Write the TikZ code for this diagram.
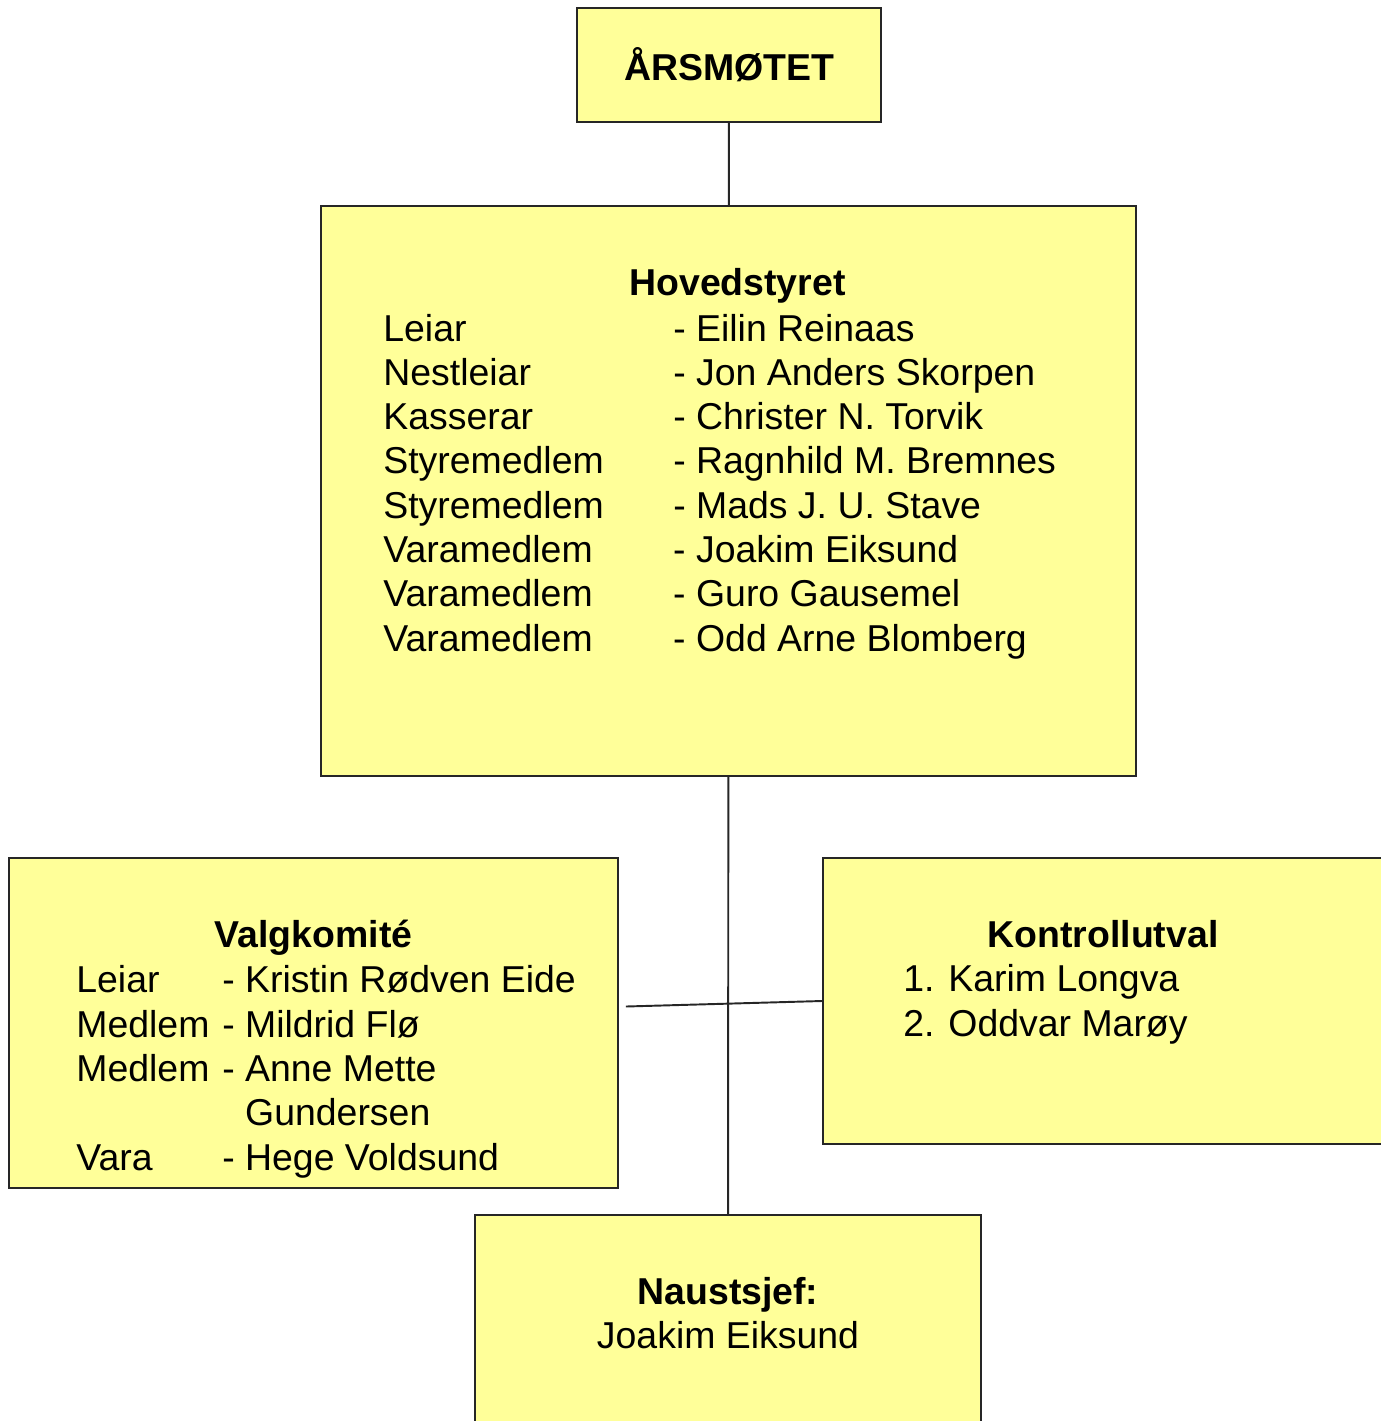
\documentclass[tikz,border=0pt]{standalone}
\usepackage{fontspec}
\setmainfont{Liberation Sans}
\definecolor{boxyellow}{HTML}{FFFF99}
\definecolor{boxline}{HTML}{262626}
\begin{document}
\begin{tikzpicture}[x=0.02cm, y=-0.02cm,
    box/.style={draw=boxline, line width=1.1pt, fill=boxyellow, inner sep=0pt},
    txt/.style={inner sep=0pt, font=\fontsize{21.3}{25.2}\selectfont},
    head/.style={txt, font=\fontsize{21.3}{25.2}\selectfont\bfseries, anchor=base}]
      \useasboundingbox (0,0) rectangle (1381,1421);
      % boksane
      \draw
        (729,65) node[box, minimum width=6.08cm, minimum height=2.28cm] (aars){}
        (728.5,491) node[box, minimum width=16.3cm, minimum height=11.4cm] (hoved){}
        (313.5,1023) node[box, minimum width=12.18cm, minimum height=6.6cm] (valg){}
        (1109,1001) node[box, minimum width=11.44cm, minimum height=5.72cm] (kontroll){}
        (728,1345) node[box, minimum width=10.12cm, minimum height=5.2cm] (naust){};
      % tekst (base = siste linja)
      \node[head] (aarstekst) at (729,80) {ÅRSMØTET};
      \node[head] (hovedtittel) at (737.5,295) {Hovedstyret};
      \node[txt, anchor=base west, align=left] (hovedliste) at (383,651)
        {\makebox[5.8cm][l]{Leiar}- Eilin Reinaas\\
         \makebox[5.8cm][l]{Nestleiar}- Jon Anders Skorpen\\
         \makebox[5.8cm][l]{Kasserar}- Christer N. Torvik\\
         \makebox[5.8cm][l]{Styremedlem}- Ragnhild M. Bremnes\\
         \makebox[5.8cm][l]{Styremedlem}- Mads J. U. Stave\\
         \makebox[5.8cm][l]{Varamedlem}- Joakim Eiksund\\
         \makebox[5.8cm][l]{Varamedlem}- Guro Gausemel\\
         \makebox[5.8cm][l]{Varamedlem}- Odd Arne Blomberg};
      \node[head] (valgtittel) at (313.5,947) {Valgkomité};
      \node[txt, anchor=base west, align=left] (valgliste) at (76,1170)
        {\makebox[2.92cm][l]{Leiar}- Kristin Rødven Eide\\
         \makebox[2.92cm][l]{Medlem}- Mildrid Flø\\
         \makebox[2.92cm][l]{Medlem}- Anne Mette\\
         \makebox[2.92cm][l]{}\phantom{- }Gundersen\\
         \makebox[2.92cm][l]{Vara}- Hege Voldsund};
      \node[head] (kontrolltittel) at (1103,947) {Kontrollutval};
      \node[txt, anchor=base west, align=left] (kontrolliste) at (903,1036)
        {1. Karim Longva\\
         2. Oddvar Marøy};
      \node[head] (nausttittel) at (728,1304) {Naustsjef:};
      \node[txt, anchor=base] (naustnamn) at (728,1348) {Joakim Eiksund};
      % linjene
      \begin{scope}[draw=boxline, line width=1.1pt]
        \draw (aars) to (hoved);
        \draw (hoved) to (naust);
        \draw ([xshift=0.14cm, yshift=0.33cm]valg.east) to (kontroll.west);
      \end{scope}
    \end{tikzpicture}
\end{document}
